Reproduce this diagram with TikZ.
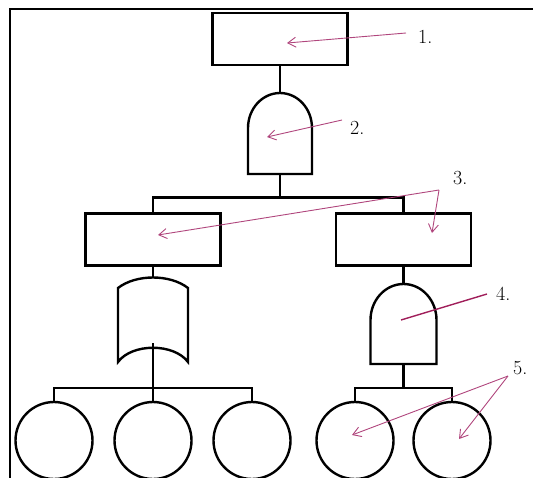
\documentclass[tikz,border=0pt]{standalone}
\usetikzlibrary{arrows.meta,calc}
\definecolor{callout}{RGB}{176,70,125}
\definecolor{calloutdark}{RGB}{160,30,90}
\begin{document}
\begin{tikzpicture}[x=1pt,y=-1pt,
  shape line/.style={draw=black,line width=2.4pt},
  event/.style={shape line,rectangle,minimum width=135pt,minimum height=52pt,inner sep=0pt},
  basic/.style={shape line,circle,minimum size=77pt,inner sep=0pt},
  link/.style={draw=black,line width=2.4pt},
  pointer/.style={draw=callout,line width=0.9pt,-{Straight Barb[length=8pt,width=10pt]}},
  tag/.style={anchor=west,inner sep=0pt,font=\fontsize{20}{20}\selectfont}]
\useasboundingbox (0,0) rectangle (533,477);

% page frame
\draw[line width=1.8pt] (10,500) -- (10,9) -- (560,9);

% events
\node[event] (top) at (280,39) {};
\node[event] (lev) at (153,239.5) {};
\node[event] (rev) at (403.5,239.5) {};

% AND gate under the top event
\coordinate (g2top) at (280,93);
\coordinate (g2bot) at (280,174);
\draw[shape line] (312,174) -- (248,174) -- (248,128)
  arc[start angle=180,end angle=0,x radius=32pt,y radius=35pt] -- cycle;

% OR gate under the left event
\coordinate (ortop) at (153,277);
\coordinate (orin) at (153,343);
\draw[shape line] (118,288) .. controls (136,274) and (170,274) .. (188,288)
  -- (188,362) .. controls (174,343) and (132,343) .. (118,362) -- cycle;

% AND gate under the right event
\coordinate (g4top) at (403.5,284);
\coordinate (g4bot) at (403.5,364);
\draw[shape line] (436.5,364) -- (370.5,364) -- (370.5,320)
  arc[start angle=180,end angle=0,x radius=33pt,y radius=36pt] -- cycle;

% basic events
\node[basic] (b1) at (54,440.5) {};
\node[basic] (b2) at (153,440.5) {};
\node[basic] (b3) at (252,440.5) {};
\node[basic] (b4) at (355,440.5) {};
\node[basic] (b5) at (452,440.5) {};

% connectors
\draw[link] (top.south) -- (g2top);
\draw[link] (g2bot) -- (280,198);
\draw[link] (lev.north) -- ++(0,-15) -| (rev.north);
\draw[link] (lev.south) -- (ortop);
\draw[link] (orin) -- (b2.north);
\draw[link] (b1.north) -- ++(0,-13) -| (b3.north);
\draw[link] (rev.south) -- (g4top);
\draw[link] (g4bot) -- ($(b4.north)!0.5!(b5.north)+(0,-13)$);
\draw[link] (b4.north) -- ++(0,-13) -| (b5.north);

% numbered callouts
\node[tag] (t1) at (418,37) {1.};
\node[tag] (t2) at (350,128) {2.};
\node[tag] (t3) at (453,178) {3.};
\node[tag] (t4) at (496,294) {4.};
\node[tag] (t5) at (513,368) {5.};

\coordinate (p1) at (406,33);
\coordinate (p2) at (342,120);
\coordinate (p3) at (439,190);
\coordinate (p4) at (487,294);
\coordinate (p5) at (508,376);

\draw[pointer] (p1) -- (287,43);
\draw[pointer] (p2) -- (267,137);
\draw[pointer] (p3) -- (158,235);
\draw[pointer] (p3) -- (432,233);
\draw[draw=calloutdark,line width=1.4pt] (p4) -- (401,320);
\draw[pointer] (p5) -- (352,435);
\draw[pointer] (p5) -- (459,439);
\end{tikzpicture}
\end{document}
